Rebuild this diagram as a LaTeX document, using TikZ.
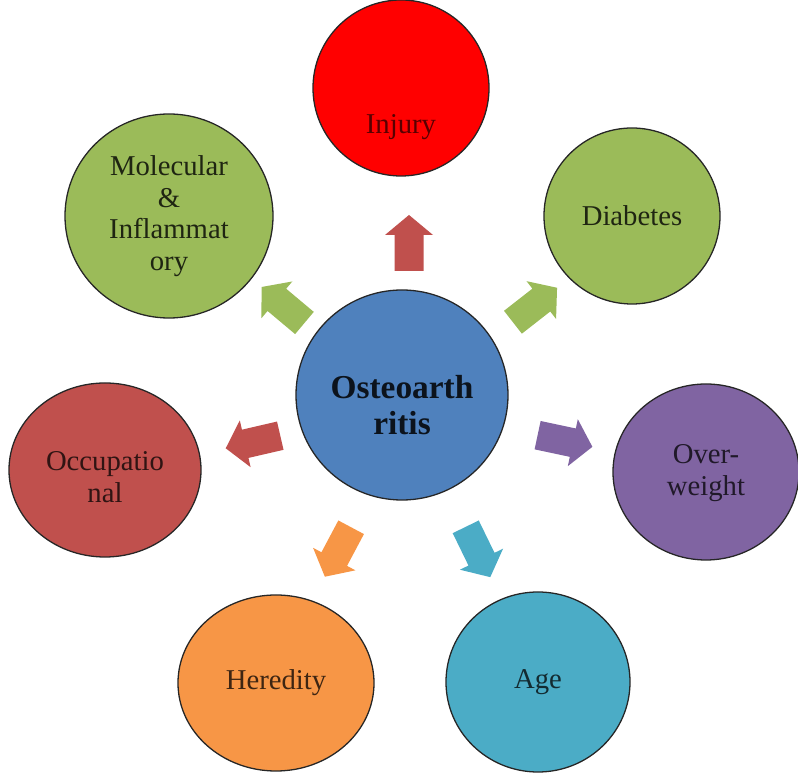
\documentclass[tikz,border=0pt]{standalone}
\usepackage{fontspec}
\setmainfont{Liberation Serif}
\usepackage{tikz}
\usetikzlibrary{shapes.geometric}

\definecolor{oablue}{HTML}{4F81BD}
\definecolor{injred}{HTML}{FF0000}
\definecolor{leafgrn}{HTML}{9BBB59}
\definecolor{brickred}{HTML}{C0504D}
\definecolor{grape}{HTML}{8064A2}
\definecolor{aqua}{HTML}{4BACC6}
\definecolor{orng}{HTML}{F79646}

\tikzset{
  factor/.style={ellipse, draw=black!85, line width=1.1pt, inner sep=0pt, align=center,
    font=\fontsize{24.5}{27}\selectfont},
  pics/blockarrow/.style={code={
    \fill[#1] (-28,-14.5) -- (8,-14.5) -- (8,-24) -- (28,0) -- (8,24) -- (8,14.5) -- (-28,14.5) -- cycle;
  }}
}

\begin{document}
\begin{tikzpicture}[x=0.03cm, y=0.03cm]
         \useasboundingbox (0,0) rectangle (798,774);
         \node[factor, fill=oablue, minimum width=6.36cm, minimum height=6.3cm,
               label={[text=black!85!oablue, font=\fontsize{28.5}{31}\selectfont\bfseries, align=center, yshift=-0.3cm]center:Osteoarth\\ritis}] (oa) at (402,379) {};
         \node[factor, fill=injred, minimum width=5.28cm, minimum height=5.28cm,
               label={[text=black!65!red, font=\fontsize{24.5}{27}\selectfont, yshift=-1.17cm]center:Injury}] (injury) at (401,686) {};
         \node[factor, fill=leafgrn, minimum width=5.28cm, minimum height=5.28cm, text=black!80!leafgrn] (diabetes) at (632,558) {Diabetes};
         \node[factor, fill=grape, minimum width=5.58cm, minimum height=5.28cm, text=black!75!grape] (overweight) at (706,302) {\\[-0.3cm]Over-\\weight};
         \node[factor, fill=aqua, minimum width=5.52cm, minimum height=5.4cm, text=black!75!aqua] (age) at (538,92) {Age};
         \node[factor, fill=orng, minimum width=5.88cm, minimum height=5.28cm, text=black!75!orng] (heredity) at (276,91) {Heredity};
         \node[factor, fill=brickred, minimum width=5.76cm, minimum height=5.22cm,
               label={[text=black!75!brickred, font=\fontsize{24.5}{27}\selectfont, align=center, yshift=-0.22cm]center:Occupatio\\nal}] (occupational) at (105,304) {};
         \node[factor, fill=leafgrn, minimum width=6.24cm, minimum height=6.12cm, text=black!80!leafgrn] (molecular) at (169,558) {Molecular\\\&\\Inflammat\\ory};
         \pic[rotate=90] at (409,531) {blockarrow=brickred};
         \pic[rotate=38] at (535,469) {blockarrow=leafgrn};
         \pic[rotate=-12] at (565,333) {blockarrow=grape};
         \pic[rotate=-64] at (478,222) {blockarrow=aqua};
         \pic[rotate=-118] at (338,222) {blockarrow=orng};
         \pic[rotate=193] at (253,332) {blockarrow=brickred};
         \pic[rotate=140] at (283,469) {blockarrow=leafgrn};
    \end{tikzpicture}
\end{document}
